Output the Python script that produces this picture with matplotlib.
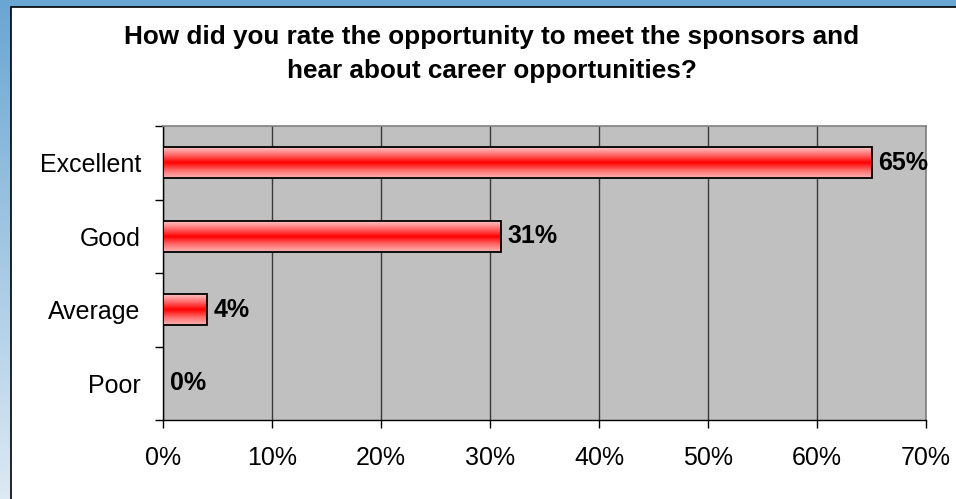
import numpy as np
import matplotlib.pyplot as plt
from matplotlib.patches import Rectangle
from matplotlib.colors import LinearSegmentedColormap

plt.rcParams["font.family"] = ["Liberation Sans", "DejaVu Sans"]

# data
categories = ["Excellent", "Good", "Average", "Poor"]
values = [65, 31, 4, 0]
xticks = [0, 10, 20, 30, 40, 50, 60, 70]
title_lines = ["How did you rate the opportunity to meet the sponsors and",
               "hear about career opportunities?"]

W, H = 956, 499
fig = plt.figure(figsize=(W / 100, H / 100), dpi=100)

# blue frame behind the white panel
bg = fig.add_axes([0, 0, 1, 1], zorder=-10)
bg.set_xlim(0, W)
bg.set_ylim(H, 0)
bg.axis("off")
grad = np.linspace(0, 1, 200).reshape(-1, 1)
blue_cmap = LinearSegmentedColormap.from_list("bl", ["#6aa6d2", "#dde9f4"])
bg.imshow(grad, cmap=blue_cmap, extent=(0, W, H, 0), aspect="auto")
bg.add_patch(Rectangle((11.5, 6.5), W, H, facecolor="white",
    edgecolor="black", linewidth=1.2))

# chart
ax = fig.add_axes([163 / W, 1 - 420 / H, (926 - 163) / W, (420 - 126) / H])
ax.set_facecolor("#c0c0c0")
ypos = np.arange(len(categories))
BAR_H = 0.42

red_cmap = LinearSegmentedColormap.from_list("rd",
    ["#ffc4c4", "#ff6a6a", "#ff0000", "#ff6a6a", "#ffb4b4"])
bar_grad = np.linspace(0, 1, 100).reshape(-1, 1)

for y, v in zip(ypos, values):
    if v > 0:
        ax.imshow(bar_grad, cmap=red_cmap, aspect="auto", zorder=3,
            extent=(0, v, y + BAR_H / 2, y - BAR_H / 2))
ax.barh(ypos, values, height=BAR_H, facecolor="none",
    edgecolor="black", linewidth=1.3, zorder=4)

for y, v in zip(ypos, values):
    ax.text(v + 0.6, y, f"{v}%", fontsize=18, fontweight="bold",
        ha="left", va="center", zorder=5)

ax.set_xlim(0, 70)
ax.set_ylim(len(categories) - 0.5, -0.5)
ax.set_aspect("auto")

ax.set_xticks(xticks)
ax.set_xticklabels([f"{t}%" for t in xticks], fontsize=18)
ax.xaxis.grid(True, color="#3a3a3a", linewidth=1)
ax.set_axisbelow(True)

ax.set_yticks(np.arange(len(categories) + 1) - 0.5)
ax.set_yticklabels([])
ax.set_yticks(ypos, minor=True)
ax.set_yticklabels(categories, minor=True, fontsize=18)
ax.tick_params(axis="y", which="minor", length=0, pad=16)
ax.tick_params(axis="y", which="major", length=6, width=1, direction="out")
ax.tick_params(axis="x", length=6, width=1, direction="out", pad=13)

for side in ["top", "right"]:
    ax.spines[side].set_color("#808080")
    ax.spines[side].set_linewidth(1.2)
for side in ["left", "bottom"]:
    ax.spines[side].set_color("black")
    ax.spines[side].set_linewidth(1)

for line, base in zip(title_lines, [44, 78]):
    fig.text(492 / W, 1 - base / H, line, fontsize=18.8, fontweight="bold",
        ha="center", va="baseline")

fig.savefig("out.png", dpi=100)
